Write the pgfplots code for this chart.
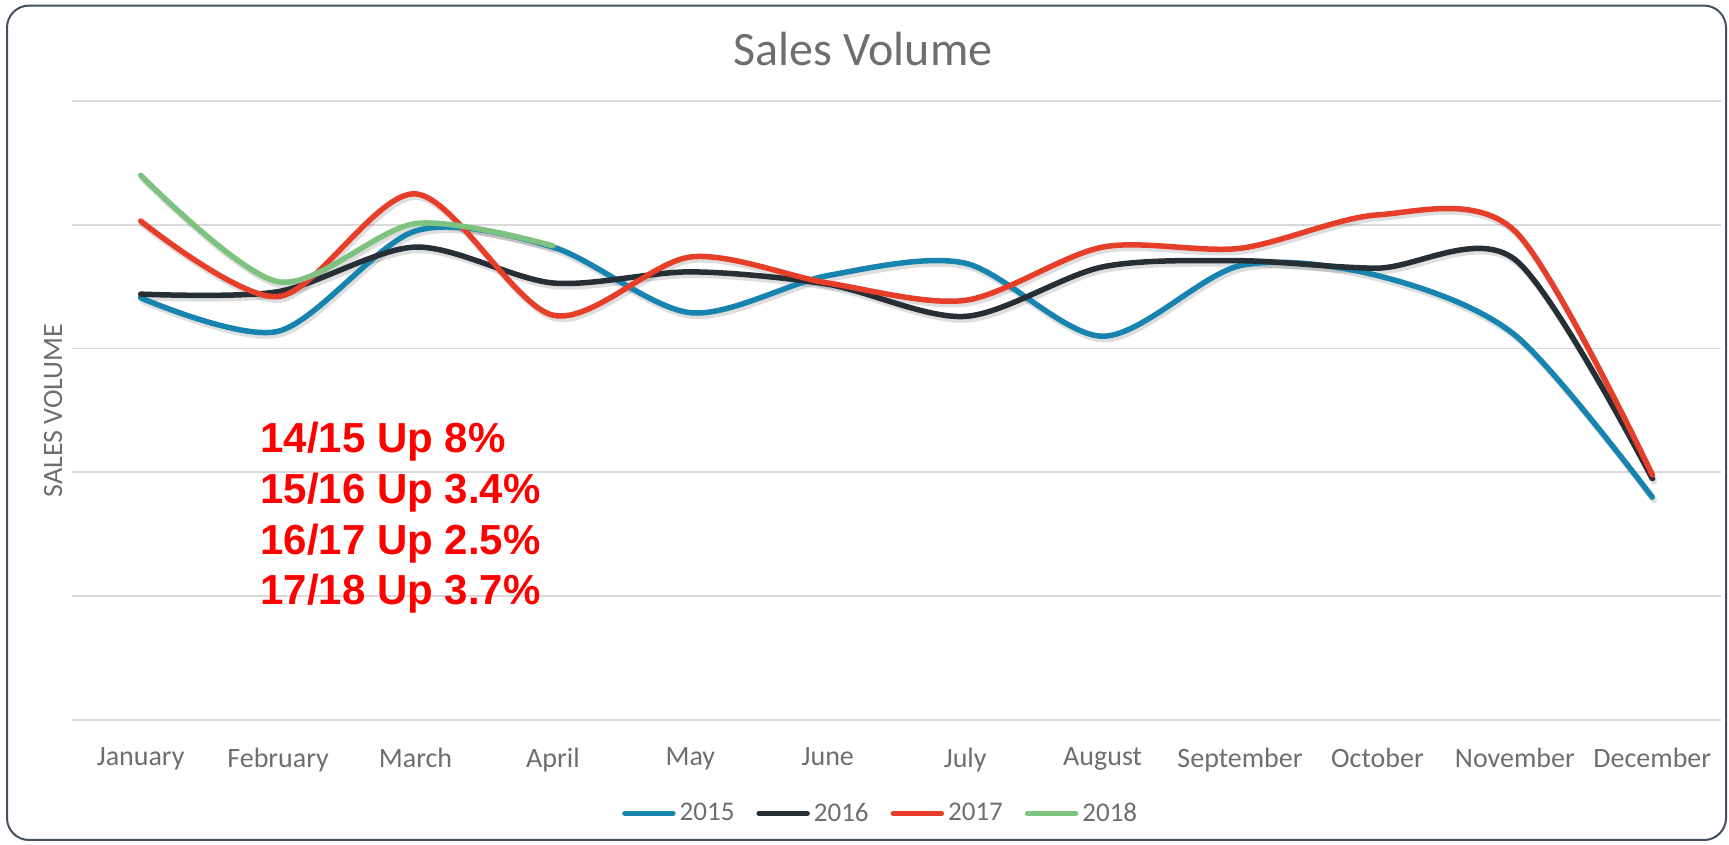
\documentclass[border=0pt]{standalone}
\usepackage{fontspec}
\setmainfont{Carlito}
\newfontfamily\annofont{Liberation Sans}
\usepackage{pgfplots}
\usepackage{pgfplotstable}
\pgfplotsset{compat=1.18}

\definecolor{c2015}{RGB}{22,132,174}
\definecolor{c2016}{RGB}{38,46,54}
\definecolor{c2017}{RGB}{231,62,42}
\definecolor{c2018}{RGB}{126,194,128}
\definecolor{gridgray}{RGB}{217,217,217}
\definecolor{txtgray}{RGB}{110,110,110}
\definecolor{framecol}{RGB}{68,80,96}

% month index, one column per year (2018 only runs to April)
\pgfplotstableread{
m  y2015 y2016 y2017 y2018
0  3.41  3.44  4.03  4.40
1  3.14  3.46  3.42  3.54
2  3.95  3.82  4.25  4.01
3  3.82  3.53  3.27  3.83
4  3.29  3.62  3.74  nan
5  3.59  3.52  3.53  nan
6  3.69  3.26  3.39  nan
7  3.10  3.66  3.82  nan
8  3.67  3.71  3.81  nan
9  3.59  3.65  4.08  nan
10 3.11  3.72  3.95  nan
11 1.80  1.95  1.98  nan
}\sales

\begin{document}
\begin{tikzpicture}
\useasboundingbox (0,0) rectangle (864.5pt,422.5pt);
\draw[framecol, line width=1pt, rounded corners=11pt] (3.5pt,2.5pt) rectangle (863pt,419.7pt);

\begin{axis}[
  at={(36pt,62.5pt)}, anchor=south west,
  scale only axis, width=824.5pt, height=309.5pt,
  xmin=-0.5, xmax=11.5, ymin=0, ymax=5,
  axis line style={draw=none},
  major tick length=0pt,
  xtick={0,...,11},
  xticklabels={January,February,March,April,May,June,July,August,September,October,November,December},
  ytick={0,...,5}, yticklabels={},
  ymajorgrids, grid style={gridgray, line width=0.9pt},
  tick label style={font=\fontsize{14}{16}\selectfont, text=txtgray},
  xticklabel style={yshift=-10.3pt},
  title={Sales Volume},
  title style={at={(axis description cs:0.4797,1)}, anchor=center, yshift=20pt,
    font=\fontsize{24}{28}\selectfont, text=txtgray},
  ylabel={SALES VOLUME},
  ylabel style={at={(axis description cs:-0.0115,0.5)}, anchor=center,
    font=\fontsize{14}{16}\selectfont, text=txtgray},
  legend columns=4,
  legend style={at={(axis description cs:0.491,-0.151)}, anchor=center, draw=none,
    fill=none, font=\fontsize{13.5}{15}\selectfont, text=txtgray,
    /tikz/every even column/.append style={column sep=9pt},
    inner sep=0pt},
  legend image code/.code={\draw[#1, line cap=round, line width=2.75pt] (0pt,0pt) -- (24pt,0pt);},
  every axis plot/.append style={line width=2.75pt, line cap=round, line join=round, smooth},
  shadow/.style={forget plot, black, opacity=0.13, line width=3pt,
    transform canvas={xshift=0.8pt, yshift=-1.6pt}},
]
% soft drop shadows
\addplot[shadow] table[x=m, y=y2015] {\sales};
\addplot[shadow] table[x=m, y=y2016] {\sales};
\addplot[shadow] table[x=m, y=y2017] {\sales};
\addplot[shadow] table[x=m, y=y2018] {\sales};

\addplot[c2015] table[x=m, y=y2015] {\sales};
\addlegendentry{2015}
\addplot[c2016] table[x=m, y=y2016] {\sales};
\addlegendentry{2016}
\addplot[c2017] table[x=m, y=y2017] {\sales};
\addlegendentry{2017}
\addplot[c2018] table[x=m, y=y2018] {\sales};
\addlegendentry{2018}
\end{axis}

% growth notes
\begin{scope}[every node/.style={anchor=base west, inner sep=0pt, text=red,
    font=\annofont\bfseries\fontsize{21}{25}\selectfont}]
\node at (130pt,196pt) {14/15 Up 8\%};
\node at (130pt,170.5pt) {15/16 Up 3.4\%};
\node at (130pt,145pt) {16/17 Up 2.5\%};
\node at (130pt,120pt) {17/18 Up 3.7\%};
\end{scope}
\end{tikzpicture}
\end{document}
